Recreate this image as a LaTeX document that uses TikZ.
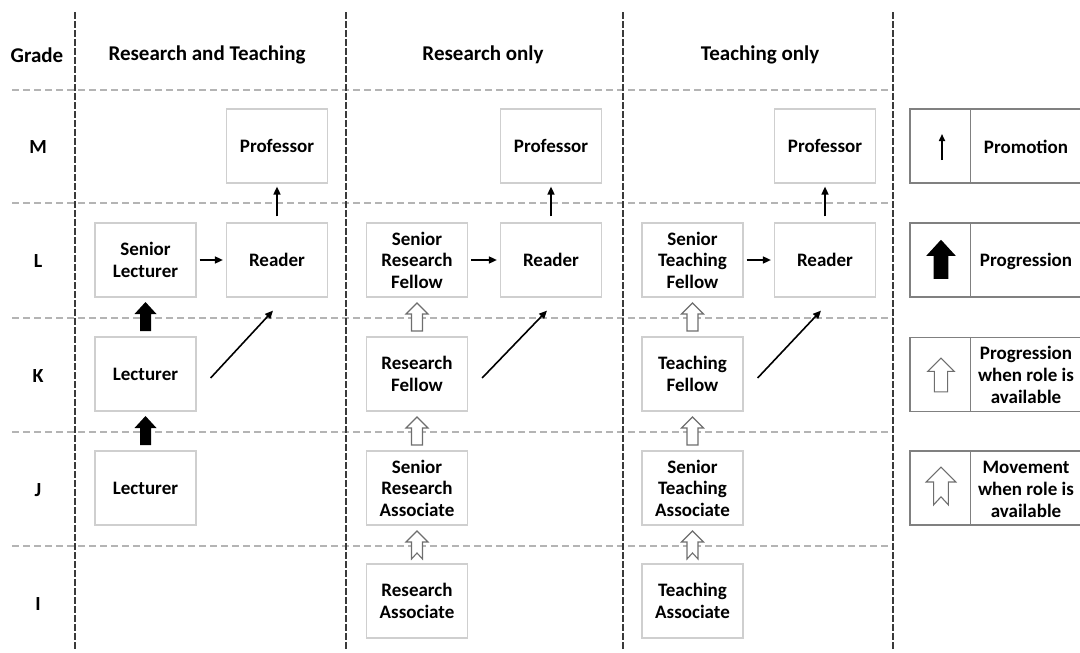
\documentclass[tikz,border=0pt]{standalone}
\usepackage{fontspec}
\setmainfont{Carlito}
\usetikzlibrary{arrows.meta,calc}
\definecolor{boxline}{HTML}{CFCFCF}
\definecolor{gridline}{HTML}{B4B4B4}
\definecolor{colline}{HTML}{3A3A3A}
\definecolor{legline}{HTML}{808080}
\definecolor{hollowline}{HTML}{6E6E6E}
\begin{document}
\begin{tikzpicture}[x=1pt,y=-1pt,
  font=\bfseries\fontsize{19}{21.5}\selectfont,
  role/.style={draw=boxline,line width=1.2pt,minimum width=101pt,minimum height=74pt,align=center,inner sep=0pt},
  head/.style={font=\bfseries\fontsize{21}{24}\selectfont,inner sep=0pt},
  grade/.style={font=\bfseries\fontsize{20}{24}\selectfont,inner sep=0pt},
  legbox/.style={draw=legline,line width=1.5pt,minimum width=180pt,minimum height=74pt,inner sep=0pt},
  legtext/.style={align=center,inner sep=0pt,font=\bfseries\fontsize{19}{22}\selectfont},
  hgrid/.style={draw=gridline,line width=1.5pt,dash pattern=on 7pt off 4pt},
  vgrid/.style={draw=colline,line width=2pt,dash pattern=on 6.5pt off 2.5pt},
  promo/.style={-{Triangle[length=8pt,width=7pt]},line width=1.6pt,black},
  progarrow/.pic={\fill[black] (0,-15)--(11,-3)--(5.5,-3)--(5.5,14)--(-5.5,14)--(-5.5,-3)--(-11,-3)--cycle;},
  hollowarrow/.pic={\draw[hollowline,fill=white,line width=1.1pt] (0,-14)--(11,-3)--(5.5,-3)--(5.5,14)--(-5.5,14)--(-5.5,-3)--(-11,-3)--cycle;},
  movearrow/.pic={\draw[hollowline,fill=white,line width=1.1pt,line join=miter] (0,-14)--(11,-3)--(5.5,-3)--(5.5,14)--(0,8)--(-5.5,14)--(-5.5,-3)--(-11,-3)--cycle;}
]
\useasboundingbox (0,0) rectangle (1080,653);

% grid lines
\foreach \yy in {90,203,318,432,546} \draw[hgrid] (12,\yy) -- (893,\yy);
\foreach \xx in {75,346,623,893} \draw[vgrid] (\xx,12) -- (\xx,650);

% headers
\node[head] (hgrade) at (37,55) {Grade};
\node[head] (hrt) at (207,55) {Research and Teaching};
\node[head] (hro) at (483,55) {Research only};
\node[head] (hto) at (760,55) {Teaching only};

% grade letters
\node[grade] (gM) at (38,147) {M};
\node[grade] (gL) at (38,261) {L};
\node[grade] (gK) at (38,376) {K};
\node[grade] (gJ) at (38,490) {J};
\node[grade] (gI) at (38,604) {I};

% Research and Teaching
\node[role] (rtprof) at (277,146) {Professor};
\node[role] (rtread) at (277,260) {Reader};
\node[role] (rtsl) at (145.5,260) {Senior\\Lecturer};
\node[role] (rtlk) at (145.5,374) {Lecturer};
\node[role] (rtlj) at (145.5,488) {Lecturer};

% Research only
\node[role] (roprof) at (551,146) {Professor};
\node[role] (roread) at (551,260) {Reader};
\node[role] (rosrf) at (417,260) {Senior\\Research\\Fellow};
\node[role] (rorf) at (417,374) {Research\\Fellow};
\node[role] (rosra) at (417,488) {Senior\\Research\\Associate};
\node[role] (rora) at (417,601) {Research\\Associate};

% Teaching only
\node[role] (toprof) at (825,146) {Professor};
\node[role] (toread) at (825,260) {Reader};
\node[role] (tostf) at (692.5,260) {Senior\\Teaching\\Fellow};
\node[role] (totf) at (692.5,374) {Teaching\\Fellow};
\node[role] (tosta) at (692.5,488) {Senior\\Teaching\\Associate};
\node[role] (tota) at (692.5,601) {Teaching\\Associate};

% promotion arrows
\foreach \r/\p in {rtread/rtprof,roread/roprof,toread/toprof}
  \draw[promo,shorten <=6pt,shorten >=3pt] (\r.north) -- (\p.south);
\foreach \s/\r in {rtsl/rtread,rosrf/roread,tostf/toread}
  \draw[promo,shorten <=3pt,shorten >=3pt] (\s.east) -- (\r.west);
\foreach \l/\r in {rtlk/rtread,rorf/roread,totf/toread}
  \draw[promo] ($(\l.east)+(14,4)$) -- ($(\r.south)+(-4,13)$);

% progression arrows
\pic at (145.5,317) {progarrow};
\pic at (145.5,431) {progarrow};
\pic at (417,317) {hollowarrow};
\pic at (417,431) {hollowarrow};
\pic at (417,545) {movearrow};
\pic at (692.5,317) {hollowarrow};
\pic at (692.5,431) {hollowarrow};
\pic at (692.5,545) {movearrow};

% legend
\node[legbox] (lg1) at (1000,146) {};
\node[legbox] (lg2) at (1000,260) {};
\node[legbox] (lg3) at (1000,374.5) {};
\node[legbox] (lg4) at (1000,488) {};
\foreach \n in {lg1,lg2,lg3,lg4}
  \draw[draw=legline,line width=1.5pt] ($(\n.north west)+(61,0)$) -- ($(\n.south west)+(61,0)$);
\node[legtext] (lt1) at (1026,147) {Promotion};
\node[legtext] (lt2) at (1026,261) {Progression};
\node[legtext] (lt3) at (1026,375) {Progression\\when role is\\available};
\node[legtext] (lt4) at (1026,489) {Movement\\when role is\\available};
\coordinate (pa) at (942,160);
\coordinate (pb) at (942,134);
\draw[promo,-{Triangle[length=7pt,width=6pt]}] (pa) -- (pb);
\pic[scale=1.35] at (941,260) {progarrow};
\pic[scale=1.2] at (941,375) {hollowarrow};
\pic[scale=1.35] at (941,486) {movearrow};
\end{tikzpicture}
\end{document}
